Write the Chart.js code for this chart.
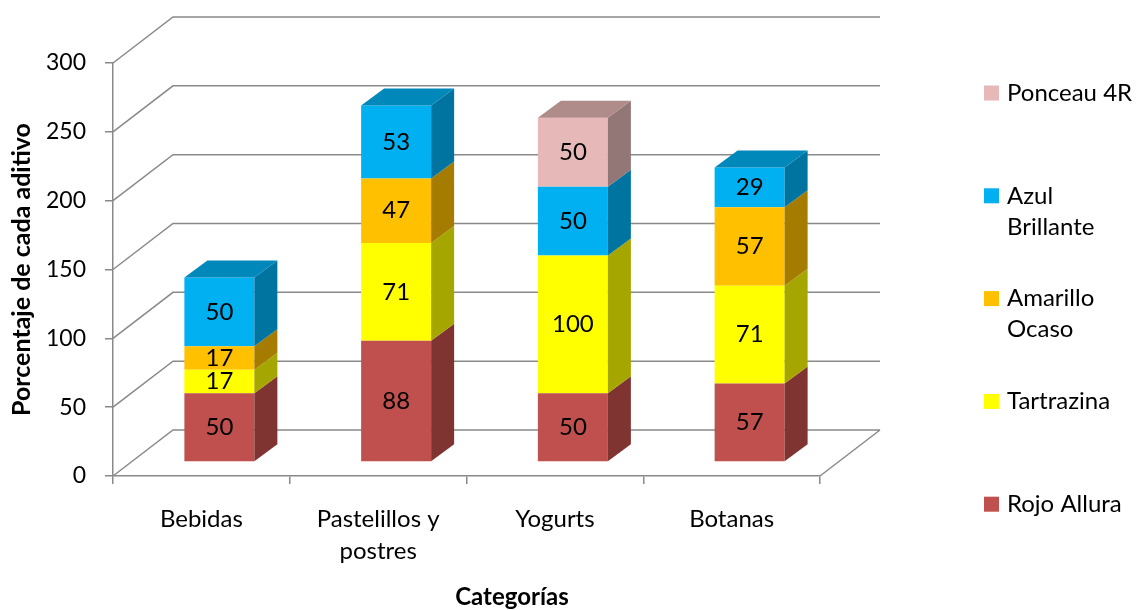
<!DOCTYPE html>
<html>
<head>
<meta charset="utf-8">
<script src="https://cdn.jsdelivr.net/npm/chart.js@4.4.1/dist/chart.umd.min.js"></script>
<style>
  html, body { margin: 0; padding: 0; background: #fff; }
  #wrap { width: 1136px; height: 610px; }
</style>
</head>
<body>
<div id="wrap"><canvas id="chartCanvas"></canvas></div>
<script>
// data
const categories = [["Bebidas"], ["Pastelillos y", "postres"], ["Yogurts"], ["Botanas"]];
const seriesNames = ["Rojo Allura", "Tartrazina", "Amarillo Ocaso", "Azul Brillante", "Ponceau 4R"];
const rojoAllura = [50, 88, 50, 57];
const tartrazina = [17, 71, 100, 71];
const amarilloOcaso = [17, 47, null, 57];
const azulBrillante = [50, 53, 50, 29];
const ponceau4R = [null, null, 50, null];
const yTicks = [0, 50, 100, 150, 200, 250, 300];

// colours
const frontColors = ["#C0504D", "#FFFF00", "#FFC000", "#00B0F0", "#E6B9B8"];
const sideColors = ["#7F3431", "#A6A600", "#A67C00", "#0074A0", "#937676"];
const topColors = ["#9C3F3C", "#CCCC00", "#CC9900", "#0088BA", "#AF8C8A"];
const gridColor = "#898989";
const fontFamily = "Lato, 'Open Sans', sans-serif";

// fake depth
const wallDx = 60, wallDy = -46;
const barShiftX = 18, barShiftY = -14;
const barDx = 23, barDy = -17;

const wrapLabel = (ctx, text, maxW) => {
  const words = text.split(" ");
  const lines = [];
  let line = "";
  words.forEach((w) => {
    const test = line ? line + " " + w : w;
    if (line && ctx.measureText(test).width > maxW) {
      lines.push(line);
      line = w;
    } else {
      line = test;
    }
  });
  if (line) lines.push(line);
  return lines;
};

const fake3d = {
  id: "fake3d",
  beforeDatasetsDraw(chart) {
    const { ctx, chartArea, scales: { y } } = chart;
    ctx.save();
    ctx.strokeStyle = gridColor;
    ctx.lineWidth = 1.5;
    ctx.beginPath();
    yTicks.forEach((v) => {
      const py = y.getPixelForValue(v);
      ctx.moveTo(chartArea.left, py);
      ctx.lineTo(chartArea.left + wallDx, py + wallDy);
      ctx.lineTo(chartArea.right + wallDx, py + wallDy);
    });
    const py0 = y.getPixelForValue(0);
    ctx.moveTo(chartArea.right + wallDx, py0 + wallDy);
    ctx.lineTo(chartArea.right, py0);
    ctx.stroke();
    ctx.restore();
    // bars sit a bit back from the front plane
    ctx.save();
    ctx.translate(barShiftX, barShiftY);
  },
  afterDatasetsDraw(chart) {
    const { ctx } = chart;
    const n = chart.data.labels.length;
    for (let i = 0; i < n; i++) {
      let topBar = null, topIdx = -1;
      chart.data.datasets.forEach((ds, d) => {
        if (ds.data[i] == null) return;
        const bar = chart.getDatasetMeta(d).data[i];
        const right = bar.x + bar.width / 2;
        ctx.fillStyle = sideColors[d];
        ctx.beginPath();
        ctx.moveTo(right, bar.y);
        ctx.lineTo(right + barDx, bar.y + barDy);
        ctx.lineTo(right + barDx, bar.base + barDy);
        ctx.lineTo(right, bar.base);
        ctx.closePath();
        ctx.fill();
        topBar = bar;
        topIdx = d;
      });
      if (topBar) {
        const left = topBar.x - topBar.width / 2;
        const right = topBar.x + topBar.width / 2;
        ctx.fillStyle = topColors[topIdx];
        ctx.beginPath();
        ctx.moveTo(left, topBar.y);
        ctx.lineTo(left + barDx, topBar.y + barDy);
        ctx.lineTo(right + barDx, topBar.y + barDy);
        ctx.lineTo(right, topBar.y);
        ctx.closePath();
        ctx.fill();
      }
    }
    // value labels
    ctx.fillStyle = "#000";
    ctx.font = "24px " + fontFamily;
    ctx.textAlign = "center";
    ctx.textBaseline = "middle";
    chart.data.datasets.forEach((ds, d) => {
      chart.getDatasetMeta(d).data.forEach((bar, i) => {
        if (ds.data[i] == null) return;
        ctx.fillText(String(ds.data[i]), bar.x, (bar.y + bar.base) / 2);
      });
    });
    ctx.restore();
  },
  afterDraw(chart) {
    const { ctx } = chart;
    ctx.save();
    // legend, top item is the last series
    ctx.font = "24px " + fontFamily;
    ctx.textAlign = "left";
    ctx.textBaseline = "middle";
    const items = chart.data.datasets.slice().reverse();
    items.forEach((ds, k) => {
      const d = chart.data.datasets.length - 1 - k;
      const cy = 93 + k * 102.8;
      ctx.fillStyle = frontColors[d];
      ctx.fillRect(984, cy - 7.5, 15, 15);
      ctx.fillStyle = "#000";
      wrapLabel(ctx, ds.label, 132).forEach((line, j) => {
        ctx.fillText(line, 1007, cy + j * 31);
      });
    });
    // x axis title
    ctx.font = "bold 24px " + fontFamily;
    ctx.textAlign = "center";
    ctx.fillText("Categorías", 512, 597);
    ctx.restore();
  },
};

const seriesData = [rojoAllura, tartrazina, amarilloOcaso, azulBrillante, ponceau4R];

const data = {
  labels: categories,
  datasets: seriesNames.map((name, d) => ({
    label: name,
    data: seriesData[d],
    backgroundColor: frontColors[d],
    borderWidth: 0,
    barPercentage: 0.396,
    categoryPercentage: 1.0,
  })),
};

const renderChart = () => {
  const ctx = document.getElementById("chartCanvas").getContext("2d");
  new Chart(ctx, {
    type: "bar",
    data: data,
    plugins: [fake3d],
    options: {
      responsive: true,
      maintainAspectRatio: false,
      animation: false,
      layout: { padding: { top: 63, right: 316, bottom: 0, left: 0 } },
      datasets: { bar: { clip: false } },
      plugins: {
        legend: { display: false },
        tooltip: { enabled: false },
      },
      scales: {
        x: {
          stacked: true,
          ticks: { padding: 19, color: "#000", font: { family: fontFamily, size: 24, lineHeight: 1.33 } },
          grid: { drawOnChartArea: false, tickLength: 8, color: gridColor, lineWidth: 1.5, offset: true },
          border: { display: true, color: gridColor, width: 1.5 },
          afterFit: (s) => { s.height = 134; },
        },
        y: {
          stacked: true,
          min: 0,
          max: 300,
          ticks: { stepSize: 50, padding: 19, color: "#000", font: { family: fontFamily, size: 23 } },
          grid: { drawOnChartArea: false, tickLength: 8, color: gridColor, lineWidth: 1.5 },
          border: { display: true, color: gridColor, width: 1.5 },
          title: {
            display: true,
            text: "Porcentaje de cada aditivo",
            color: "#000",
            font: { family: fontFamily, size: 25, weight: "bold" },
            padding: { top: 7 },
          },
          afterFit: (s) => { s.width = 113; },
        },
      },
    },
  });
};

renderChart();
</script>
</body>
</html>
